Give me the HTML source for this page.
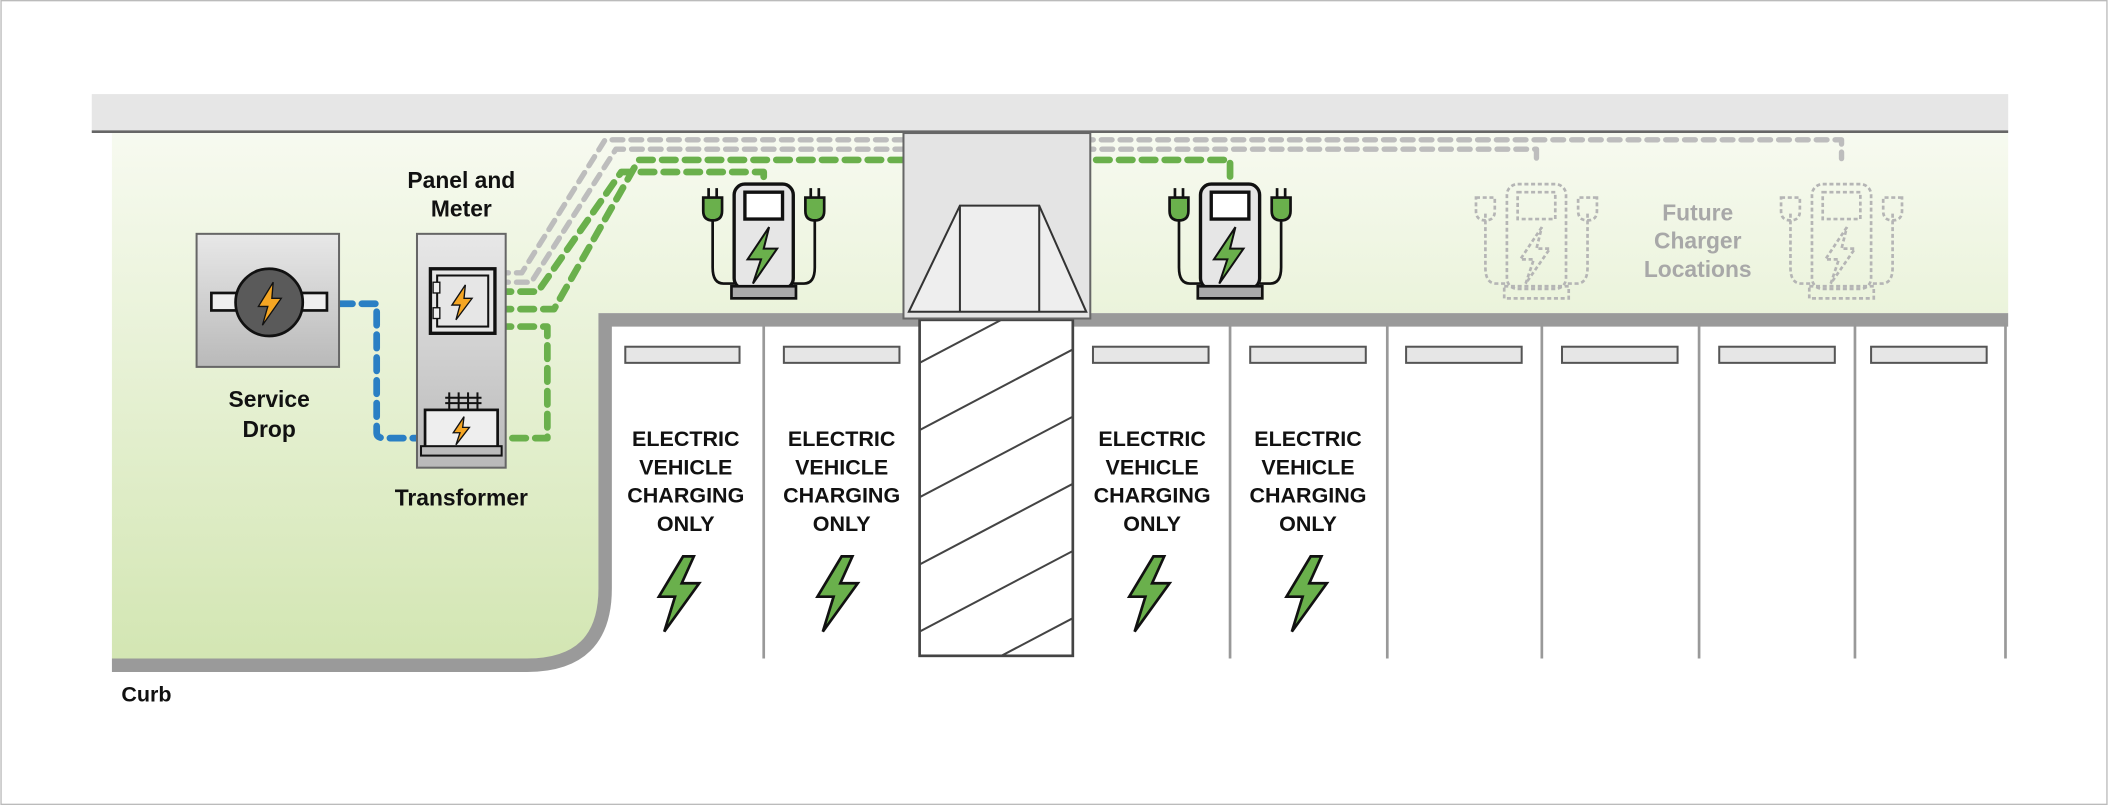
<!DOCTYPE html>
<html><head><meta charset="utf-8"><style>html,body{margin:0;padding:0;background:#fff}svg{display:block}</style></head><body>
<svg width="2108" height="805" viewBox="0 0 1568 599" xmlns="http://www.w3.org/2000/svg" font-family="Liberation Sans, sans-serif">
<defs>
<linearGradient id="gr" x1="0" y1="0" x2="0" y2="1"><stop offset="0" stop-color="#f7faf0"/><stop offset="1" stop-color="#d3e6b3"/></linearGradient>
<linearGradient id="gb" x1="0" y1="0" x2="0" y2="1"><stop offset="0" stop-color="#e8e8e8"/><stop offset="1" stop-color="#b9b9b9"/></linearGradient>
<g id="ch">
 <path d="M-38,22 v40 q0,12 8,12 h8 M38,22 v40 q0,12 -8,12 h-8" fill="none" stroke="#111" stroke-width="2"/>
 <rect x="-22" y="0" width="44" height="78" rx="8" fill="#e6e6e6" stroke="#111" stroke-width="2.5"/>
 <rect x="-14" y="6" width="28" height="20" fill="#fff" stroke="#111" stroke-width="2.5"/>
 <path d="M4,32 L-12,56 L-2,56 L-8,74 L10,48 L0,48 Z" fill="#6ab04c" stroke="#111" stroke-width="1.5"/>
 <rect x="-24" y="76" width="48" height="9" fill="#aaa" stroke="#111" stroke-width="2"/>
 <path d="M-45,10 h14 v10 q0,7 -7,7 q-7,0 -7,-7z M45,10 h-14 v10 q0,7 7,7 q7,0 7,-7z" fill="#6ab04c" stroke="#111" stroke-width="2"/>
 <path d="M-41,10 v-7 M-35,10 v-7 M41,10 v-7 M35,10 v-7" stroke="#111" stroke-width="2"/>
</g>
<g id="fc" fill="none" stroke="#b5b5b5" stroke-width="2" stroke-dasharray="3 2">
 <path d="M-38,22 v40 q0,12 8,12 h8 M38,22 v40 q0,12 -8,12 h-8"/>
 <rect x="-22" y="0" width="44" height="78" rx="8"/>
 <rect x="-14" y="6" width="28" height="20"/>
 <path d="M4,32 L-12,56 L-2,56 L-8,74 L10,48 L0,48 Z"/>
 <rect x="-24" y="76" width="48" height="9"/>
 <path d="M-45,10 h14 v10 q0,7 -7,7 q-7,0 -7,-7z M45,10 h-14 v10 q0,7 7,7 q7,0 7,-7z"/>
</g>
<path id="bolt" d="M18,0 L0,30 L12,30 L4,56 L30,20 L17,20 L26,0 Z"/>
</defs>
<rect x="0.5" y="0.5" width="1567" height="598" fill="#fff" stroke="#bbb"/>
<rect x="68" y="70" width="1426" height="28" fill="#e6e6e6"/>
<path d="M83,99 H1494 V233 H445 V440 Q445,490 395,490 H83 Z" fill="url(#gr)"/>
<line x1="68" y1="98" x2="1494" y2="98" stroke="#666" stroke-width="2"/>
<path d="M83,495 H392 Q450,495 450,438 V238 H1494" fill="none" stroke="#9a9a9a" stroke-width="10"/>
<!-- stalls -->
<g stroke="#999" stroke-width="2">
<line x1="568" y1="240" x2="568" y2="490"/><line x1="915" y1="240" x2="915" y2="490"/>
<line x1="1032" y1="240" x2="1032" y2="490"/><line x1="1147" y1="240" x2="1147" y2="490"/>
<line x1="1264" y1="240" x2="1264" y2="490"/><line x1="1380" y1="240" x2="1380" y2="490"/>
<line x1="1492" y1="240" x2="1492" y2="490"/>
</g>
<rect x="684" y="238" width="114" height="250" fill="#fff" stroke="#444" stroke-width="2"/>
<clipPath id="hc"><rect x="684" y="238" width="114" height="250"/></clipPath>
<g clip-path="url(#hc)" stroke="#444" stroke-width="1.5">
<line x1="684" y1="270" x2="798" y2="210"/><line x1="684" y1="320" x2="798" y2="260"/>
<line x1="684" y1="370" x2="798" y2="310"/><line x1="684" y1="420" x2="798" y2="360"/>
<line x1="684" y1="470" x2="798" y2="410"/><line x1="684" y1="520" x2="798" y2="460"/>
</g>
<g fill="#e6e6e6" stroke="#555" stroke-width="1.5">
<rect x="465" y="258" width="85" height="12"/><rect x="583" y="258" width="86" height="12"/>
<rect x="813" y="258" width="86" height="12"/><rect x="930" y="258" width="86" height="12"/>
<rect x="1046" y="258" width="86" height="12"/><rect x="1162" y="258" width="86" height="12"/>
<rect x="1279" y="258" width="86" height="12"/><rect x="1392" y="258" width="86" height="12"/>
</g>
<g font-weight="bold" font-size="16" text-anchor="middle" fill="#111">
<g transform="translate(510,0)"><text y="332">ELECTRIC</text><text y="353">VEHICLE</text><text y="374">CHARGING</text><text y="395">ONLY</text></g>
<g transform="translate(626,0)"><text y="332">ELECTRIC</text><text y="353">VEHICLE</text><text y="374">CHARGING</text><text y="395">ONLY</text></g>
<g transform="translate(857,0)"><text y="332">ELECTRIC</text><text y="353">VEHICLE</text><text y="374">CHARGING</text><text y="395">ONLY</text></g>
<g transform="translate(973,0)"><text y="332">ELECTRIC</text><text y="353">VEHICLE</text><text y="374">CHARGING</text><text y="395">ONLY</text></g>
</g>
<g fill="#6ab04c" stroke="#111" stroke-width="2">
<use href="#bolt" transform="translate(490,414)"/><use href="#bolt" transform="translate(608,414)"/>
<use href="#bolt" transform="translate(840,414)"/><use href="#bolt" transform="translate(957,414)"/>
</g>
<!-- dashed lines -->
<g fill="none" stroke-width="4" stroke-linecap="round" stroke-linejoin="round">
<path d="M370,203 H388 L450,104 H1370 V118" stroke="#bdbdbd" stroke-dasharray="8 6"/>
<path d="M370,210 H395 L458,111 H1143 V120" stroke="#bdbdbd" stroke-dasharray="8 6"/>
<path d="M370,217 H400 L462,128 H568 V137" stroke="#6ab04c" stroke-width="5" stroke-dasharray="10 7"/>
<path d="M370,230 H412 L475,119 H915 V135" stroke="#6ab04c" stroke-width="5" stroke-dasharray="10 7"/>
<path d="M370,243 H407 V326 H372" stroke="#6ab04c" stroke-width="5" stroke-dasharray="10 7"/>
<path d="M252,226 H280 V322 Q280,326 286,326 H316" stroke="#2a7fc4" stroke-width="5" stroke-dasharray="10 7"/>
</g>
<!-- building (over lines) -->
<rect x="672" y="99" width="139" height="138" fill="#e4e4e4" stroke="#666" stroke-width="1.5"/>
<path d="M714,153 H773 L808,232 H676 Z" fill="#eee" stroke="#333" stroke-width="1.5"/>
<path d="M714,153 V232 M773,153 V232" stroke="#333" stroke-width="1.5"/>
<!-- service drop -->
<rect x="146" y="174" width="106" height="99" fill="url(#gb)" stroke="#666" stroke-width="1.5"/>
<rect x="157" y="218" width="86" height="13" fill="#eee" stroke="#111" stroke-width="2"/>
<circle cx="200" cy="225" r="25" fill="#5a5a5a" stroke="#111" stroke-width="2"/>
<path d="M203,210 L192,228 L199,228 L195,242 L209,222 L202,222 Z" fill="#f5a623" stroke="#111" stroke-width="1"/>
<!-- panel -->
<rect x="310" y="174" width="66" height="174" fill="url(#gb)" stroke="#666" stroke-width="1.5"/>
<rect x="320" y="200" width="48" height="48" fill="#e6e6e6" stroke="#111" stroke-width="2.5"/>
<rect x="325" y="205" width="38" height="38" fill="none" stroke="#111" stroke-width="1.5"/>
<rect x="322" y="210" width="5" height="8" fill="#eee" stroke="#111" stroke-width="1"/>
<rect x="322" y="229" width="5" height="8" fill="#eee" stroke="#111" stroke-width="1"/>
<path d="M346,212 L336,227 L342,227 L339,238 L351,222 L345,222 Z" fill="#f5a623" stroke="#111" stroke-width="1"/>
<rect x="316" y="305" width="54" height="30" fill="#eee" stroke="#111" stroke-width="2"/>
<rect x="313" y="332" width="60" height="7" fill="#bbb" stroke="#111" stroke-width="1.5"/>
<path d="M334,292 v13 M341,292 v13 M348,292 v13 M355,292 v13 M331,296 h27 M331,300 h27" stroke="#111" stroke-width="1.5"/>
<path d="M345,310 L337,322 L342,322 L339,331 L349,318 L344,318 Z" fill="#f5a623" stroke="#111" stroke-width="1"/>
<!-- chargers -->
<use href="#ch" transform="translate(568,137)"/>
<use href="#ch" transform="translate(915,137)"/>
<use href="#fc" transform="translate(1143,137)"/>
<use href="#fc" transform="translate(1370,137)"/>
<g font-weight="bold" font-size="17" text-anchor="middle" fill="#111">
<text x="343" y="140">Panel and</text><text x="343" y="161">Meter</text>
<text x="200" y="303">Service</text><text x="200" y="325">Drop</text>
<text x="343" y="376">Transformer</text>
</g>
<text x="90" y="522" font-weight="bold" font-size="16" fill="#111">Curb</text>
<g font-weight="bold" font-size="17" text-anchor="middle" fill="#a8a8a8">
<text x="1263" y="164">Future</text><text x="1263" y="185">Charger</text><text x="1263" y="206">Locations</text>
</g>
</svg>
</body></html>
